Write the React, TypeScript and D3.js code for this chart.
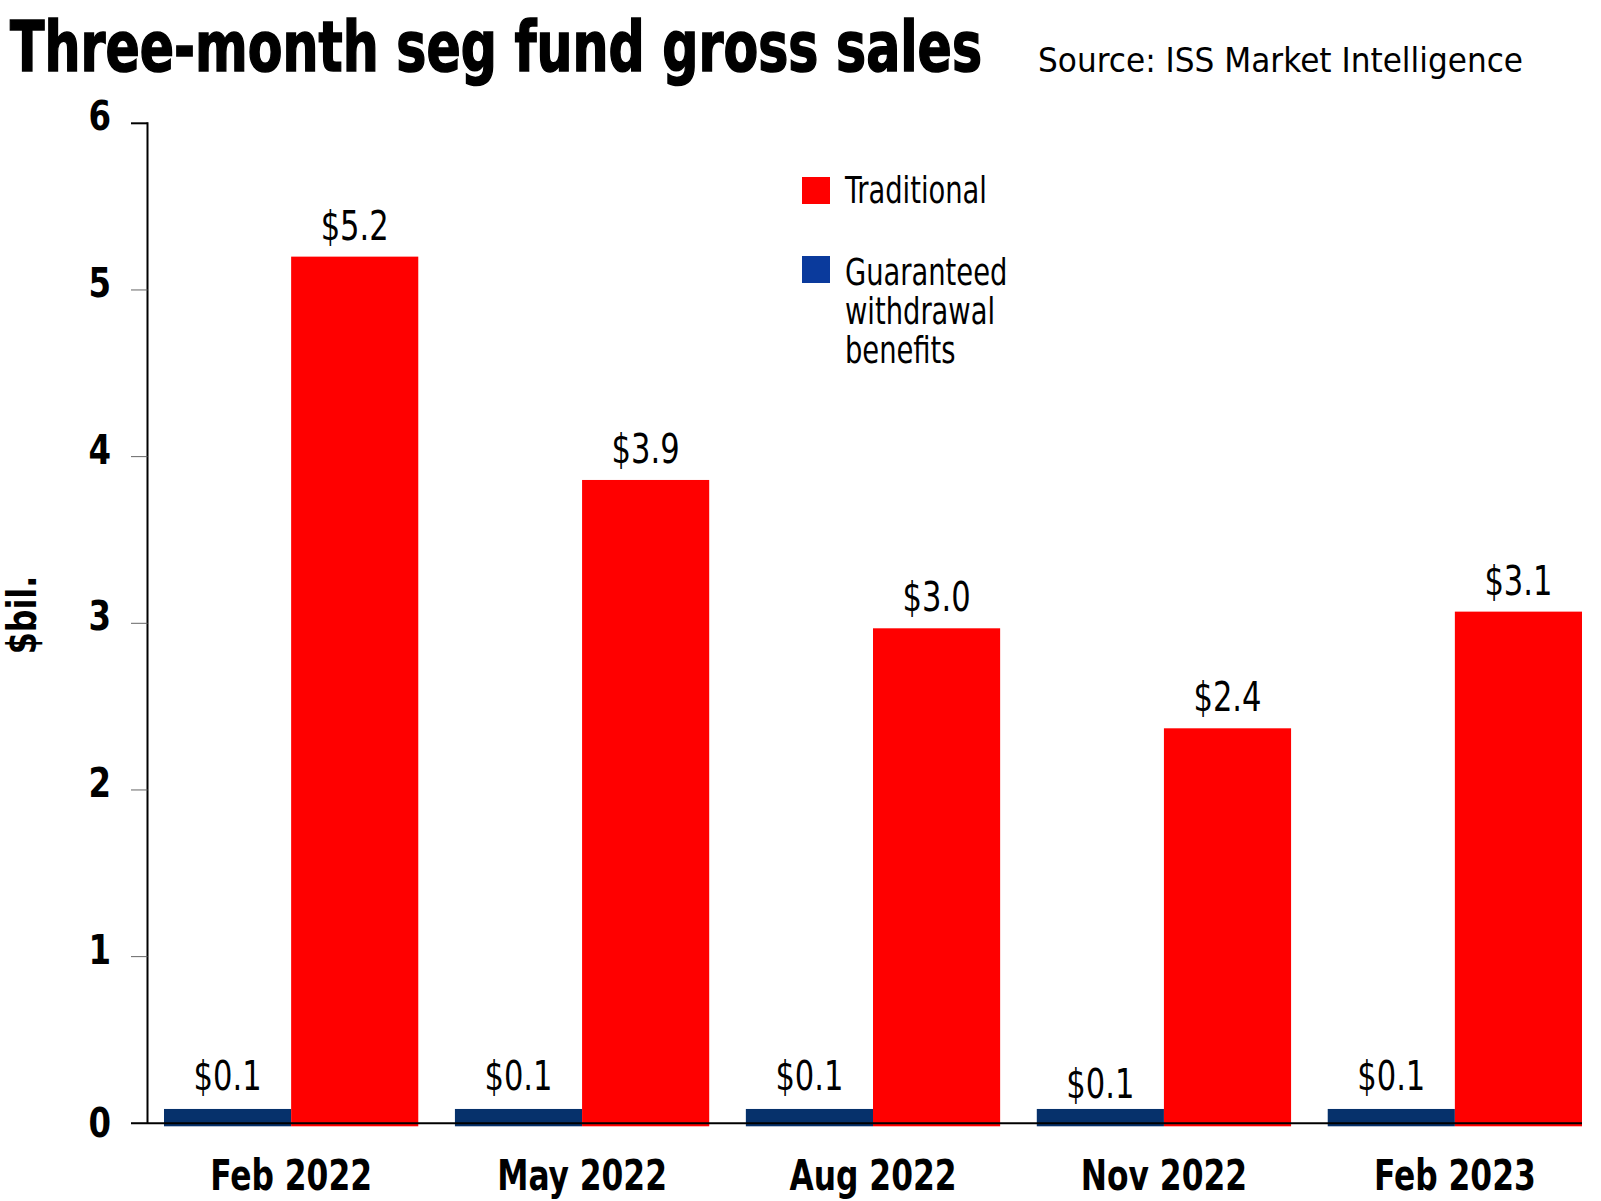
import * as d3 from 'd3';

const periods = ['Feb 2022', 'May 2022', 'Aug 2022', 'Nov 2022', 'Feb 2023'];
const gwbValues = [0.086, 0.086, 0.086, 0.086, 0.086];
const traditionalValues = [5.2, 3.86, 2.97, 2.37, 3.07];
const gwbLabels = ['$0.1', '$0.1', '$0.1', '$0.1', '$0.1'];
const traditionalLabels = ['$5.2', '$3.9', '$3.0', '$2.4', '$3.1'];
const yTicks = [0, 1, 2, 3, 4, 5, 6];
const seriesKeys = ['gwb', 'traditional'];

const RED = '#ff0000';
const NAVY = '#06316b';
const LEGEND_BLUE = '#0a3a9c';
const COND = "'DejaVu Sans Condensed', 'DejaVu Sans', sans-serif";

function CText({ x, y, sx = 0.85, anchor = 'middle', size, weight = 'normal', children }: any) {
  return (
    <text
      transform={`translate(${x},${y}) scale(${sx},1)`}
      textAnchor={anchor}
      fontFamily={COND}
      fontStretch="condensed"
      fontSize={size}
      fontWeight={weight}
      fill="#000"
    >
      {children}
    </text>
  );
}

export default function App() {
  const width = 1601;
  const height = 1201;
  const axisX = 147.5;
  const y = d3.scaleLinear().domain([0, 6]).range([1123.3, 123.3]);
  const x = d3.scaleBand<string>().domain(periods).range([164, 1582]).paddingInner(0.126).paddingOuter(0);
  const xs = d3.scaleBand<string>().domain(seriesKeys).range([0, x.bandwidth()]);

  return (
    <svg width={width} height={height} style={{ position: 'absolute', left: 0, top: 0, background: '#fff' }}>
      {/* title & source */}
      <text x={10} y={71} fontFamily={COND} fontStretch="condensed" fontWeight="bold" fontSize={70}
        textLength={972} lengthAdjust="spacingAndGlyphs" stroke="#000" strokeWidth={1.5}>
        Three-month seg fund gross sales
      </text>
      <text x={1038} y={72} fontFamily="'DejaVu Sans', sans-serif" fontSize={33}
        textLength={485} lengthAdjust="spacingAndGlyphs">
        Source: ISS Market Intelligence
      </text>

      {/* y axis label */}
      <g transform="translate(36,615) rotate(-90)">
        <CText x={0} y={0} size={40} weight="bold" sx={0.88}>$bil.</CText>
      </g>

      {/* bars */}
      {periods.map((p, i) => (
        <g key={p} transform={`translate(${x(p)},0)`}>
          <rect x={xs('gwb')} y={y(gwbValues[i])} width={xs.bandwidth()} height={y(0) - y(gwbValues[i]) + 3} fill={NAVY} />
          <rect x={xs('traditional')} y={y(traditionalValues[i])} width={xs.bandwidth()} height={y(0) - y(traditionalValues[i]) + 3} fill={RED} />
        </g>
      ))}

      {/* value labels */}
      {periods.map((p, i) => (
        <g key={p + 'l'}>
          <CText x={x(p)! + xs('gwb')! + xs.bandwidth() / 2} y={y(gwbValues[i]) - 19 + (i === 3 ? 8 : 0)} size={40}>
            {gwbLabels[i]}
          </CText>
          <CText x={x(p)! + xs('traditional')! + xs.bandwidth() / 2} y={y(traditionalValues[i]) - 17} size={40}>
            {traditionalLabels[i]}
          </CText>
        </g>
      ))}

      {/* y axis */}
      <line x1={axisX} x2={axisX} y1={y(6) - 1} y2={y(0)} stroke="#000" strokeWidth={2} />
      {yTicks.map((t) => (
        <g key={t}>
          <line x1={131} x2={axisX} y1={y(t)} y2={y(t)} stroke={t === 6 ? '#000' : '#666'} strokeWidth={t === 6 ? 2 : 1} />
          <CText x={111} y={y(t) + (t === 0 ? 14 : 7)} anchor="end" size={40} weight="bold" sx={0.9}>{t}</CText>
        </g>
      ))}
      <line x1={131} x2={1582} y1={y(0)} y2={y(0)} stroke="#000" strokeWidth={2} />

      {/* x labels */}
      {periods.map((p) => (
        <CText key={p + 'x'} x={x(p)! + x.bandwidth() / 2} y={1190} size={43} weight="bold" sx={0.81}>{p}</CText>
      ))}

      {/* legend */}
      <rect x={802} y={177} width={28} height={27} fill={RED} />
      <CText x={845} y={203} anchor="start" size={38} sx={0.8}>Traditional</CText>
      <rect x={802} y={256} width={28} height={27} fill={LEGEND_BLUE} />
      <CText x={845} y={285} anchor="start" size={38} sx={0.8}>Guaranteed</CText>
      <CText x={845} y={324} anchor="start" size={38} sx={0.8}>withdrawal</CText>
      <CText x={845} y={363} anchor="start" size={38} sx={0.8}>benefits</CText>
    </svg>
  );
}
